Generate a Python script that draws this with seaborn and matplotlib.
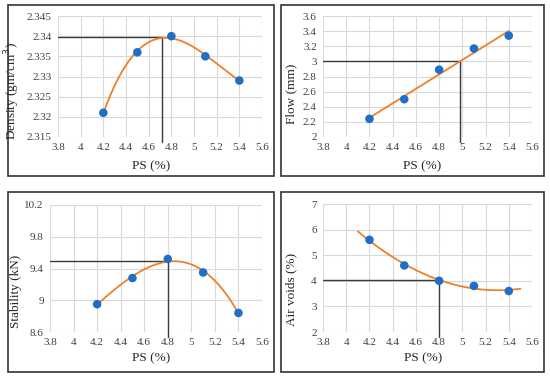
import numpy as np
import pandas as pd
import seaborn as sns
import matplotlib
matplotlib.use("Agg")
import matplotlib.pyplot as plt
from matplotlib.patches import Rectangle

sns.set_theme(style="white")
plt.rcParams['font.family'] = ['Liberation Serif', 'DejaVu Serif']

ps = [4.2, 4.5, 4.8, 5.1, 5.4]
density = [2.321, 2.336, 2.340, 2.335, 2.329]
flow = [2.24, 2.50, 2.89, 3.17, 3.34]
stability = [8.95, 9.28, 9.52, 9.35, 8.84]
air_voids = [5.6, 4.6, 4.0, 3.8, 3.6]

x_ticks = [3.8, 4.0, 4.2, 4.4, 4.6, 4.8, 5.0, 5.2, 5.4, 5.6]
x_ticklabels = ["3.8", "4", "4.2", "4.4", "4.6", "4.8", "5", "5.2", "5.4", "5.6"]

panels = [
    dict(y=density, ylabel="Density (gm/cm$^3$)", yticks=[2.315, 2.32, 2.325, 2.33, 2.335, 2.34, 2.345],
         yticklabels=["2.315", "2.32", "2.325", "2.33", "2.335", "2.34", "2.345"],
         order=3, fit_range=(4.2, 5.4), ref=(4.72, 2.3398), ylab=(22, 91), xlab=(151, 160),
         ax_rect=[58, 16, 262, 137], box=[8, 5, 274, 176]),
    dict(y=flow, ylabel="Flow (mm)", yticks=[2, 2.2, 2.4, 2.6, 2.8, 3, 3.2, 3.4, 3.6],
         yticklabels=["2", "2.2", "2.4", "2.6", "2.8", "3", "3.2", "3.4", "3.6"],
         order=1, fit_range=(4.2, 5.4), ref=(4.98, 3.0), ylab=(297, 94), xlab=(422, 160),
         ax_rect=[323, 16, 532, 137], box=[281, 5, 544, 176]),
    dict(y=stability, ylabel="Stability (kN)", yticks=[8.6, 9.0, 9.4, 9.8, 10.2],
         yticklabels=["8.6", "9", "9.4", "9.8", "10.2"],
         order=3, fit_range=(4.2, 5.4), ref=(4.8, 9.5), ylab=(22, 291), xlab=(151, 352),
         ax_rect=[50, 205, 262, 332], box=[8, 192, 274, 372]),
    dict(y=air_voids, ylabel="Air voids (%)", yticks=[2, 3, 4, 5, 6, 7],
         yticklabels=["2", "3", "4", "5", "6", "7"],
         order=2, fit_range=(4.1, 5.5), ref=(4.8, 4.05), ylab=(297, 289), xlab=(423, 352),
         ax_rect=[323, 204, 532, 332], box=[281, 192, 544, 372]),
]

W, H = 550, 380
fig = plt.figure(figsize=(5.5, 3.8), dpi=100)

for p in panels:
    x0, y0, x1, y1 = p["ax_rect"]
    ax = fig.add_axes([x0 / W, 1 - y1 / H, (x1 - x0) / W, (y1 - y0) / H])
    df = pd.DataFrame({"PS": ps, "val": p["y"]})
    coef = np.polyfit(ps, p["y"], p["order"])
    xf = np.linspace(p["fit_range"][0], p["fit_range"][1], 200)
    fit = pd.DataFrame({"PS": xf, "val": np.polyval(coef, xf)})
    ymin, ymax = p["yticks"][0], p["yticks"][-1]
    rx, ry = p["ref"]
    ax.plot([3.8, rx], [ry, ry], color="#3a3a3a", lw=1.0, zorder=3)
    ax.plot([rx, rx], [ymin - (ymax - ymin) * 0.04, ry], color="#3a3a3a", lw=1.0, zorder=3, clip_on=False)
    sns.lineplot(data=fit, x="PS", y="val", ax=ax, color="#F07F2A", lw=1.3, zorder=4)
    sns.scatterplot(data=df, x="PS", y="val", ax=ax, color="#1F6FC8", s=38, edgecolor="none", zorder=5)
    ax.set_xlim(3.8, 5.6)
    ax.set_ylim(ymin, ymax)
    ax.set_xticks(x_ticks)
    ax.set_xticklabels(x_ticklabels)
    ax.set_yticks(p["yticks"])
    ax.set_yticklabels(p["yticklabels"])
    ax.grid(True, color="#d9d9d9", lw=0.8)
    ax.set_axisbelow(True)
    for s in ax.spines.values():
        s.set_visible(False)
    ax.tick_params(axis="both", length=0, labelsize=8, colors="#404040", pad=4.5)
    ax.set_xlabel("PS (%)", fontsize=9.5, color="#262626")
    ax.set_ylabel(p["ylabel"], fontsize=9.5, color="#262626")
    lx, ly = p["ylab"]
    ax.yaxis.set_label_coords((lx - x0) / (x1 - x0), (y1 - ly) / (y1 - y0))
    xx, xy = p["xlab"]
    ax.xaxis.set_label_coords((xx - x0) / (x1 - x0), (y1 - xy) / (y1 - y0))
    bx0, by0, bx1, by1 = p["box"]
    fig.patches.append(Rectangle((bx0 / W, 1 - by1 / H), (bx1 - bx0) / W, (by1 - by0) / H,
                                 transform=fig.transFigure, fill=False, edgecolor="#333333", lw=1.2))

fig.savefig("out.png", dpi=100)
